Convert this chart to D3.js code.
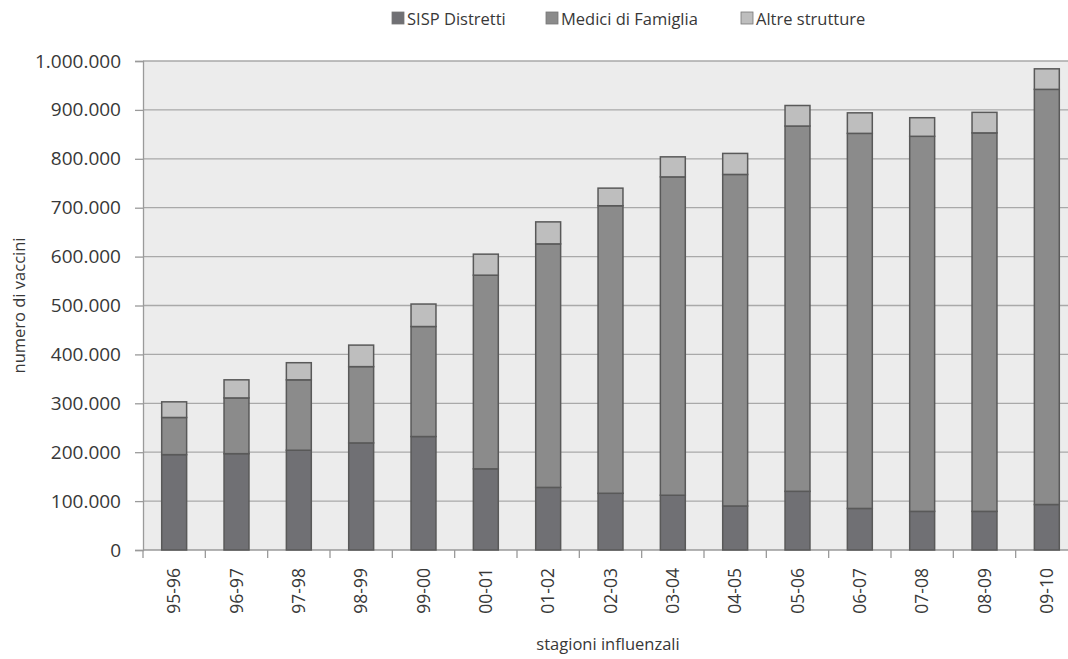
<!DOCTYPE html>
<html><head><meta charset="utf-8">
<script src="https://cdn.jsdelivr.net/npm/d3@7"></script>
<style>
body{margin:0;background:#fff;}
svg{display:block;font-family:"Open Sans",sans-serif;}
</style></head>
<body><svg id="c" width="1068" height="659"></svg>
<script>
const categories = ["95-96","96-97","97-98","98-99","99-00","00-01","01-02","02-03","03-04","04-05","05-06","06-07","07-08","08-09","09-10"];
const sispDistretti = [195000,197000,204000,219000,232000,166000,128000,116000,112000,90000,120000,85000,79000,79000,93000];
const mediciFamiglia = [76000,114000,144000,156000,225000,396000,498000,588000,651000,678000,747000,767000,767000,774000,849000];
const altreStrutture = [32000,37000,35000,44000,46000,43000,45000,36000,41000,43000,42000,42000,38000,42000,42000];
const seriesNames = ["SISP Distretti","Medici di Famiglia","Altre strutture"];
const seriesColors = ["#707074","#8b8b8b","#bebebe"];
const yTicks = [0,100000,200000,300000,400000,500000,600000,700000,800000,900000,1000000];

const svg = d3.select("#c");
const M = {left:143, top:61, bottom:550, right:1078};
const x = d3.scaleBand().domain(categories).range([M.left, M.right]).paddingInner(0.6).paddingOuter(0.3);
const xb = d3.scaleBand().domain(categories).range([M.left, M.right]);
const y = d3.scaleLinear().domain([0,1000000]).range([M.bottom, M.top]);
const fmt = v => d3.format(",")(v).replace(/,/g,".");
const txt = "#383838";

svg.append("rect").attr("x",M.left).attr("y",M.top).attr("width",M.right-M.left).attr("height",M.bottom-M.top).attr("fill","#ececec");

// gridlines
svg.append("g").selectAll("line").data(yTicks.slice(1)).join("line")
  .attr("x1",M.left).attr("x2",M.right).attr("y1",d=>y(d)).attr("y2",d=>y(d))
  .attr("stroke","#a9a9a9").attr("stroke-width",1.3);

// y axis
const ya = svg.append("g").attr("transform",`translate(${M.left},0)`)
  .call(d3.axisLeft(y).tickValues(yTicks).tickFormat(fmt).tickSizeOuter(0).tickSize(8).tickPadding(14));
ya.select(".domain").attr("stroke","#9a9a9a").attr("stroke-width",1.3);
ya.selectAll(".tick line").attr("stroke","#9a9a9a").attr("stroke-width",1.3);
ya.selectAll("text").attr("font-size",19).attr("fill",txt).attr("font-family","Open Sans");

// x axis
const xa = svg.append("g").attr("transform",`translate(0,${M.bottom})`);
xa.append("line").attr("x1",M.left).attr("x2",M.right).attr("stroke","#9a9a9a").attr("stroke-width",1.3);
xa.selectAll("line.t").data(categories.concat(["_end"])).join("line").attr("class","t")
  .attr("x1",(d,i)=>M.left+i*xb.step()).attr("x2",(d,i)=>M.left+i*xb.step())
  .attr("y1",0).attr("y2",8).attr("stroke","#9a9a9a").attr("stroke-width",1.3);
xa.selectAll("text").data(categories).join("text")
  .attr("transform",d=>`translate(${x(d)+x.bandwidth()/2+6},${18}) rotate(-90)`)
  .attr("text-anchor","end").attr("font-size",17.5).attr("fill",txt).text(d=>d);

// stack
const rows = categories.map((c,i)=>({cat:c, s0:sispDistretti[i], s1:mediciFamiglia[i], s2:altreStrutture[i]}));
const stack = d3.stack().keys(["s0","s1","s2"])(rows);
svg.append("g").selectAll("g").data(stack).join("g").attr("fill",(d,i)=>seriesColors[i])
  .selectAll("rect").data(d=>d).join("rect")
  .attr("x",d=>x(d.data.cat)).attr("width",x.bandwidth())
  .attr("y",d=>y(d[1])).attr("height",d=>y(d[0])-y(d[1]))
  .attr("stroke","#595959").attr("stroke-width",1.5);

// axis titles
svg.append("text").attr("transform",`translate(25,${(M.top+M.bottom)/2}) rotate(-90)`)
  .attr("text-anchor","middle").attr("font-size",16.5).attr("fill",txt).text("numero di vaccini");
svg.append("text").attr("x",608).attr("y",650).attr("text-anchor","middle")
  .attr("font-size",16.5).attr("fill",txt).text("stagioni influenzali");

// legend
const legX = [392,546,741];
const lg = svg.append("g").selectAll("g").data(seriesNames).join("g")
  .attr("transform",(d,i)=>`translate(${legX[i]},12)`);
lg.append("rect").attr("width",12).attr("height",12).attr("fill",(d,i)=>seriesColors[i]).attr("stroke","#777").attr("stroke-width",0.8);
lg.append("text").attr("x",15).attr("y",12.5).attr("font-size",16.5).attr("fill",txt).text(d=>d);
</script></body></html>
